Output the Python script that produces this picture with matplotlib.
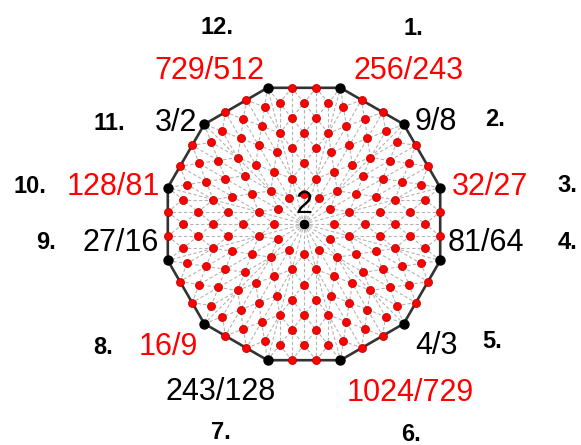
import numpy as np
import matplotlib
matplotlib.use("Agg")
import matplotlib.pyplot as plt

# ---- data ----
step_numbers = ["1.", "2.", "3.", "4.", "5.", "6.", "7.", "8.", "9.", "10.", "11.", "12."]
ratios = ["256/243", "9/8", "32/27", "81/64", "4/3", "1024/729",
          "243/128", "16/9", "27/16", "128/81", "3/2", "729/512"]
highlight = [True, False, True, False, False, True,
             False, True, False, True, False, True]
center_label = "2"
n_sides = 12
grid_n = 9      # subdivisions of each spoke
grid_mod = 3    # keep lattice nodes with i == j (mod 3)

# ---- layout (pixels) ----
W, H = 581, 445
cx, cy, R = 304.0, 224.0, 141.0
ratio_off = [(68.5, -19.8), (32.3, -5.3), (49.3, -3.5), (45.8, -20.5),
             (32.3, 19.3), (69.5, 29.8), (-46.5, 28.8), (-36.3, 20.3),
             (-46.8, -20.5), (-54.8, -3.5), (-28.3, -4.3), (-58.5, -19.8)]
num_pos = [(413, 27), (495, 118), (567, 184), (568, 241), (492, 340), (411, 433),
           (221, 431), (103, 346), (46, 241), (30, 185), (109, 122), (217, 26)]

RATIO_FS = 22
NUM_FS = 17
FONT = ["Liberation Sans", "DejaVu Sans"]

fig = plt.figure(figsize=(W / 100, H / 100), dpi=100)
ax = fig.add_axes([0, 0, 1, 1])
ax.set_xlim(0, W)
ax.set_ylim(H, 0)
ax.axis("off")

angles = np.deg2rad(75 - 360.0 / n_sides * np.arange(n_sides))
vx = cx + R * np.cos(angles)
vy = cy - R * np.sin(angles)
O = np.array([cx, cy])

dots = {}
segs = {}
for t in range(n_sides):
    A = np.array([vx[t], vy[t]])
    B = np.array([vx[(t + 1) % n_sides], vy[(t + 1) % n_sides]])
    pts = {}
    for i in range(grid_n + 1):
        for j in range(grid_n + 1 - i):
            if (i - j) % grid_mod == 0:
                p = O + (i * (A - O) + j * (B - O)) / grid_n
                pts[(i, j)] = p
                dots[(round(p[0], 2), round(p[1], 2))] = p
    keys = [lambda i, j: ("a", i - j), lambda i, j: ("b", i + 2 * j),
            lambda i, j: ("c", 2 * i + j)]
    for kf in keys:
        groups = {}
        for (i, j), p in pts.items():
            groups.setdefault(kf(i, j), []).append(((i, j), p))
        for g in groups.values():
            if len(g) < 2:
                continue
            g.sort(key=lambda e: (e[0][0], e[0][1]))
            p0, p1 = g[0][1], g[-1][1]
            k = tuple(sorted([(round(p0[0], 1), round(p0[1], 1)), (round(p1[0], 1), round(p1[1], 1))]))
            segs[k] = (p0, p1)
    # spoke to vertex
    k = tuple(sorted([(round(cx, 1), round(cy, 1)), (round(A[0], 1), round(A[1], 1))]))
    segs[k] = (O, A)

for p0, p1 in segs.values():
    ax.plot([p0[0], p1[0]], [p0[1], p1[1]], color="#b4b4b4", lw=0.8,
            ls=(0, (3, 2)), zorder=1)

# polygon
ax.plot(np.append(vx, vx[0]), np.append(vy, vy[0]), color="#333333", lw=1.9, zorder=2,
        solid_joinstyle="round")

# red dots
vert_keys = set((round(x, 2), round(y, 2)) for x, y in zip(vx, vy))
red = np.array([p for k, p in dots.items() if k not in vert_keys and
                not (abs(p[0] - cx) < 0.01 and abs(p[1] - cy) < 0.01)])
ax.scatter(red[:, 0], red[:, 1], s=34, color="#ff0000", edgecolor="#b00000",
           linewidths=0.5, zorder=3)
# vertices + center
ax.scatter(vx, vy, s=42, color="black", zorder=4)
ax.scatter([cx], [cy], s=36, color="black", zorder=4)

# labels
digit_h = 0.716 * RATIO_FS * 100 / 72
for k in range(n_sides):
    x = vx[k] + ratio_off[k][0]
    y = vy[k] + ratio_off[k][1] + digit_h / 2
    ax.text(x, y, ratios[k], fontsize=RATIO_FS, family=FONT, ha="center", va="baseline",
            color="#ff0000" if highlight[k] else "black", zorder=5)
num_h = 0.716 * NUM_FS * 100 / 72
for k in range(n_sides):
    x, y = num_pos[k]
    ax.text(x, y + num_h / 2, step_numbers[k], fontsize=NUM_FS, family=FONT,
            fontweight="bold", ha="center", va="baseline", color="black", zorder=5)

ax.text(cx, 202 + digit_h / 2, center_label, fontsize=RATIO_FS, family=FONT,
        ha="center", va="baseline", color="black", zorder=5)

fig.savefig("out.png", dpi=100)
